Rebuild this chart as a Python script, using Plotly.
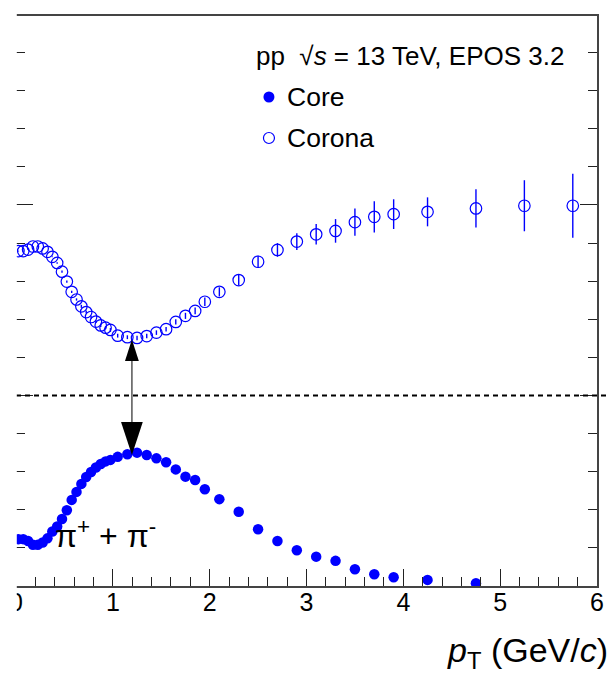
import plotly.graph_objects as go

# pT bin centres (GeV/c)
pt = [0.025, 0.075, 0.125, 0.175, 0.225, 0.275, 0.325, 0.375, 0.425, 0.475,
      0.525, 0.575, 0.625, 0.675, 0.725, 0.775, 0.825, 0.875, 0.925, 0.975,
      1.05, 1.15, 1.25, 1.35, 1.45, 1.55, 1.65, 1.75, 1.85, 1.95,
      2.1, 2.3, 2.5, 2.7, 2.9, 3.1, 3.3, 3.5, 3.7, 3.9,
      4.25, 4.75, 5.25, 5.75]

# corona fraction and its statistical error
corona = [0.879, 0.879, 0.883, 0.891, 0.891, 0.886, 0.877, 0.864, 0.848, 0.825,
          0.799, 0.772, 0.752, 0.734, 0.719, 0.706, 0.694, 0.684, 0.678, 0.672,
          0.657, 0.653, 0.651, 0.656, 0.665, 0.674, 0.693, 0.709, 0.722, 0.746,
          0.772, 0.803, 0.851, 0.882, 0.904, 0.923, 0.932, 0.955, 0.969, 0.976,
          0.982, 0.991, 0.998, 0.998]
corona_err = [0.001, 0.001, 0.001, 0.001, 0.001, 0.001, 0.001, 0.001, 0.002, 0.003,
              0.003, 0.003, 0.003, 0.004, 0.004, 0.004, 0.004, 0.004, 0.004, 0.005,
              0.005, 0.005, 0.006, 0.006, 0.006, 0.006, 0.007, 0.008, 0.009, 0.011,
              0.012, 0.014, 0.016, 0.018, 0.022, 0.027, 0.031, 0.036, 0.041, 0.039,
              0.038, 0.050, 0.067, 0.084]

# core fraction (last two bins empty)
pt_core = pt[:42]
core = [0.123, 0.123, 0.118, 0.108, 0.108, 0.114, 0.125, 0.143, 0.156, 0.176,
        0.199, 0.226, 0.247, 0.268, 0.286, 0.299, 0.311, 0.320, 0.327, 0.331,
        0.339, 0.346, 0.350, 0.344, 0.335, 0.325, 0.306, 0.287, 0.278, 0.254,
        0.228, 0.195, 0.149, 0.118, 0.094, 0.077, 0.066, 0.044, 0.031, 0.023,
        0.016, 0.007]

x_ticks = [0, 1, 2, 3, 4, 5, 6]
x_tick_text = ["0", "1", "2", "3", "4", "5", "6"]

BLUE = "#0000ff"
FONT = "Liberation Sans, Arial, sans-serif"

W, H = 611, 677
ML, MR, MT, MB = 16, 7, 16, 91
PW, PH = W - ML - MR, H - MT - MB
YMAX = 1.496
XMAX = 6.0


def px_x(p):
    return (p - ML) / PW


def px_y(p):
    return (H - MB - p) / PH


fig = go.Figure()

fig.add_trace(go.Scatter(
    x=pt, y=corona, mode="markers", name="Corona", showlegend=False,
    marker=dict(symbol="circle-open", size=11.5, color=BLUE, line=dict(width=1.2, color=BLUE)),
    error_y=dict(type="data", array=corona_err, color=BLUE, thickness=1.4, width=0),
))
fig.add_trace(go.Scatter(
    x=pt_core, y=core, mode="markers", name="Core", showlegend=False,
    marker=dict(symbol="circle", size=10.5, color=BLUE, line=dict(width=0)),
))

shapes = []
# dashed reference line at 0.5
shapes.append(dict(type="line", xref="paper", yref="y", x0=0, x1=1.02, y0=0.5, y1=0.5,
                   line=dict(color="black", width=2, dash="5px,4px"), layer="above"))

# double-headed arrow between corona minimum and core maximum
ax = 1.197
sx = XMAX / PW        # data units per pixel (x)
sy = YMAX / PH        # data units per pixel (y)
top_tip, top_base, top_hw = 0.647, 0.647 - 21.5 * sy, 7 * sx
bot_tip, bot_base, bot_hw = 0.344, 0.344 + 33 * sy, 11 * sx
shapes.append(dict(type="line", xref="x", yref="y", x0=ax, x1=ax, y0=top_base, y1=bot_base,
                   line=dict(color="#555555", width=1.5), layer="above"))
shapes.append(dict(type="path", xref="x", yref="y",
                   path=f"M {ax},{top_tip} L {ax - top_hw},{top_base} L {ax + top_hw},{top_base} Z",
                   fillcolor="black", line=dict(width=0), layer="above"))
shapes.append(dict(type="path", xref="x", yref="y",
                   path=f"M {ax},{bot_tip} L {ax - bot_hw},{bot_base} L {ax + bot_hw},{bot_base} Z",
                   fillcolor="black", line=dict(width=0), layer="above"))

# legend symbols
shapes.append(dict(type="circle", xref="paper", yref="paper",
                   xsizemode="pixel", ysizemode="pixel",
                   xanchor=px_x(272), yanchor=px_y(97), x0=-5.5, x1=5.5, y0=-5.5, y1=5.5,
                   fillcolor=BLUE, line=dict(width=0)))
shapes.append(dict(type="circle", xref="paper", yref="paper",
                   xsizemode="pixel", ysizemode="pixel",
                   xanchor=px_x(272), yanchor=px_y(138), x0=-5.5, x1=5.5, y0=-5.5, y1=5.5,
                   fillcolor="rgba(0,0,0,0)", line=dict(width=1.2, color=BLUE)))

# left edge of the canvas is trimmed
shapes.append(dict(type="rect", xref="paper", yref="paper",
                   xsizemode="pixel", xanchor=0, x0=-30, x1=0.8, y0=-0.3, y1=1.2,
                   fillcolor="white", line=dict(width=0), layer="above"))

annotations = [
    dict(text="pp  √<i>s</i> = 13 TeV, EPOS 3.2", xref="paper", yref="paper",
         x=px_x(257), y=px_y(56), xanchor="left", yanchor="middle", showarrow=False,
         font=dict(family=FONT, size=26, color="black")),
    dict(text="Core", xref="paper", yref="paper",
         x=px_x(288), y=px_y(97), xanchor="left", yanchor="middle", showarrow=False,
         font=dict(family=FONT, size=26.5, color="black")),
    dict(text="Corona", xref="paper", yref="paper",
         x=px_x(288), y=px_y(138), xanchor="left", yanchor="middle", showarrow=False,
         font=dict(family=FONT, size=26.5, color="black")),
    dict(text="π<sup>+</sup> + π<sup>-</sup>", xref="paper", yref="paper",
         x=px_x(53), y=px_y(534), xanchor="left", yanchor="middle", showarrow=False,
         font=dict(family=FONT, size=32, color="black")),
    dict(text="<i>p</i><sub>T</sub> (GeV/<i>c</i>)", xref="paper", yref="paper",
         x=px_x(617), y=px_y(652), xanchor="right", yanchor="middle", showarrow=False,
         font=dict(family=FONT, size=34, color="black")),
]

fig.update_layout(
    width=W, height=H,
    margin=dict(l=ML, r=MR, t=MT, b=MB, pad=0),
    paper_bgcolor="white", plot_bgcolor="white",
    showlegend=False,
    shapes=shapes, annotations=annotations,
    font=dict(family=FONT, color="black"),
)

fig.update_xaxes(
    range=[0, XMAX], tickmode="array", tickvals=x_ticks, ticktext=x_tick_text,
    ticks="inside", ticklen=17, tickwidth=1.2, tickcolor="#222222",
    minor=dict(dtick=0.2, ticks="inside", ticklen=9, tickwidth=1, tickcolor="#222222"),
    showline=True, linecolor="#444444", linewidth=1.5, mirror=True,
    showgrid=False, zeroline=False, ticklabelstandoff=-7,
    tickfont=dict(family=FONT, size=25, color="black"),
)
fig.update_yaxes(
    range=[0, YMAX], tickmode="array", tickvals=[0, 0.5, 1.0],
    ticks="inside", ticklen=17, tickwidth=1.2, tickcolor="#222222",
    minor=dict(dtick=0.1, ticks="inside", ticklen=9, tickwidth=1, tickcolor="#222222"),
    showline=True, linecolor="#444444", linewidth=1.5, mirror="ticks",
    showgrid=False, zeroline=False, showticklabels=False,
)

fig.write_html("out.html")
